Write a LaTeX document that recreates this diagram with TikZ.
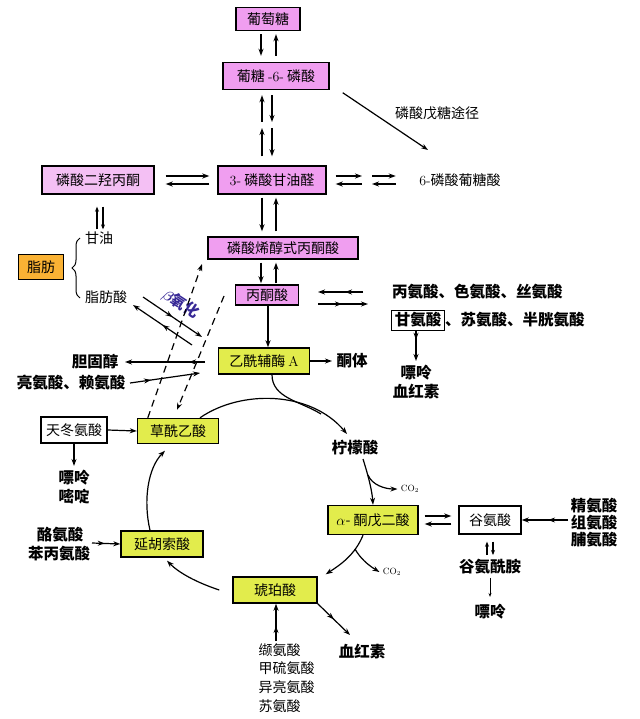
\documentclass[tikz,border=0pt]{standalone}
\usepackage{amsmath}
\usepackage{fontspec}
\newfontfamily\cjk{Noto Sans CJK SC}
\usetikzlibrary{arrows.meta,decorations.markings,decorations.pathreplacing,calc}
\definecolor{pinkA}{RGB}{240,158,240}
\definecolor{pinkB}{RGB}{244,192,244}
\definecolor{yel}{RGB}{226,236,76}
\definecolor{orng}{RGB}{250,178,52}
\definecolor{betac}{RGB}{55,40,150}
\begin{document}
\begin{tikzpicture}[x=1pt,y=-1pt,
  >={Stealth[length=7pt,width=5pt]},
  every node/.style={font=\cjk\fontsize{14}{16}\selectfont},
  bx/.style={draw, line width=1.4pt, inner sep=0pt, minimum height=26pt},
  ln/.style={line width=1.2pt},
  dbl/.style={ln, ->, decoration={markings, mark=at position #1 with {\arrow{Stealth[length=7pt,width=5pt]}}}, postaction={decorate}},
  dbl/.default=0.5,
  bt/.style={font=\cjk\bfseries\fontsize{15.5}{17}\selectfont},
  sm/.style={font=\fontsize{9}{10}\selectfont}
]
\useasboundingbox (0,0) rectangle (639,719);

% ---------- boxes ----------
\node[bx,fill=pinkA,minimum width=64pt,minimum height=23pt] (glu) at (268,19) {葡萄糖};
\node[bx,fill=pinkA,minimum width=106pt,minimum height=27pt] (g6p) at (276,76) {葡糖 \textrm{-6-} 磷酸};
\node[bx,fill=pinkA,minimum width=108pt,minimum height=28pt] (gap) at (272,180) {\textrm{3-} 磷酸甘油醛};
\node[bx,fill=pinkB,minimum width=112pt,minimum height=28pt] (dhap) at (98,180) {磷酸二羟丙酮};
\node[bx,fill=pinkA,minimum width=150pt,minimum height=22pt] (pep) at (283,248) {磷酸烯醇式丙酮酸};
\node[bx,fill=pinkA,minimum width=63pt,minimum height=20pt] (pyr) at (267,295) {丙酮酸};
\node[bx,fill=yel,minimum width=91pt,minimum height=26pt] (acoa) at (264,361) {乙酰辅酶 \textrm{A}};
\node[bx,fill=yel,minimum width=81pt,minimum height=25pt] (oaa) at (178,431) {草酰乙酸};
\node[bx,fill=white,minimum width=66pt,minimum height=26pt] (asp) at (74,430) {天冬氨酸};
\node[bx,fill=yel,minimum width=82pt] (fum) at (162,544) {延胡索酸};
\node[bx,fill=yel,minimum width=84pt] (suc) at (275,590) {琥珀酸};
\node[bx,fill=yel,minimum width=90pt,minimum height=29pt] (akg) at (373,520) {$\alpha$- 酮戊二酸};
\node[bx,fill=white,minimum width=62pt,minimum height=28pt] (glt) at (490,520) {谷氨酸};
\node[bx,fill=orng,minimum width=45pt,minimum height=25pt] (fat) at (41,267) {脂肪};
\node[draw,line width=1pt,inner sep=0pt,minimum width=53pt,minimum height=20pt,bt] (gly) at (418,320) {甘氨酸};

% ---------- texts ----------
\node[bt,anchor=west,inner sep=0pt] (aa2) at (gly.east) {、苏氨酸、半胱氨酸};
\node[bt,anchor=west,inner sep=0pt] (aa1) at (392,292) {丙氨酸、色氨酸、丝氨酸};
\node (ppp) at (437,113) {磷酸戊糖途径};
\node (gpa) at (460,180) {\textrm{6-}磷酸葡糖酸};
\node[anchor=west,inner sep=0pt] (glyc) at (85,238) {甘油};
\node[anchor=west,inner sep=0pt] (fa) at (85,297) {脂肪酸};
\node[bt] (pur1) at (416,373) {嘌呤};
\node[bt] (hem1) at (416,392) {血红素};
\node[bt] (keto) at (352,361) {酮体};
\node[bt] (chol) at (95,362) {胆固醇};
\node[bt] (leu) at (71,383) {亮氨酸、赖氨酸};
\node[bt] (pur2) at (74,478) {嘌呤};
\node[bt] (pym) at (74,497) {嘧啶};
\node[bt] (tyr) at (60,535) {酪氨酸};
\node[bt] (phe) at (59,554) {苯丙氨酸};
\node[bt] (cit) at (355,448) {柠檬酸};
\node[sm] (co2a) at (410,489) {CO$_2$};
\node[sm] (co2b) at (392,572) {CO$_2$};
\node[bt] (arg) at (594,506) {精氨酸};
\node[bt] (his) at (594,523) {组氨酸};
\node[bt] (pro) at (594,540) {脯氨酸};
\node[bt] (gln) at (490,567) {谷氨酰胺};
\node[bt] (pur3) at (490,612) {嘌呤};
\node[bt] (hem2) at (362,652) {血红素};
\node[anchor=west] (val) at (255,650) {缬氨酸};
\node[anchor=west] (met) at (255,668) {甲硫氨酸};
\node[anchor=west] (ile) at (255,687) {异亮氨酸};
\node[anchor=west] (thr) at (255,706) {苏氨酸};
\node[text=betac,rotate=-33,inner sep=0pt,font=\cjk\bfseries\fontsize{15}{16}\selectfont] (beta) at (181,304) {$\boldsymbol{\beta}$氧化};

% ---------- free-end coordinates ----------
\coordinate (gm) at (267,125);
\coordinate (gq) at (367,180);
\coordinate (ppe) at (428,150);
\coordinate (p1a) at (363,292);
\coordinate (p1b) at (318,292);
\coordinate (p2a) at (318,304);
\coordinate (p2b) at (368,304);
\coordinate (pu1) at (416,361);
\coordinate (ch1) at (205,362);
\coordinate (ch2) at (125,362);
\coordinate (le1) at (130,383);
\coordinate (le2) at (200,373);
\coordinate (bA1) at (143,297);
\coordinate (bA2) at (202,337);
\coordinate (bB1) at (192,345);
\coordinate (bB2) at (133,305);
\coordinate (pe1) at (202,264);
\coordinate (ds) at (224,296);
\coordinate (ty) at (92,543);
\coordinate (jn) at (321,414);
\coordinate (cb1) at (368,475);
\coordinate (cb2) at (355,549);
\coordinate (hm) at (350,635);
\coordinate (vb) at (276,641);
\coordinate (ag) at (568,520);

% ---------- glycolysis ----------
\draw[ln,->,shorten <=3pt,shorten >=6pt] (glu.south -| 261,0) -- (g6p.north -| 261,0);
\draw[ln,->,shorten <=6pt,shorten >=3pt] (g6p.north -| 276,0) -- (glu.south -| 276,0);
\draw[ln,->,shorten <=3pt,shorten >=5pt] (gm -| 262,0) -- (g6p.south -| 262,0);
\draw[ln,->,shorten <=5pt,shorten >=3pt] (g6p.south -| 272,0) -- (gm -| 272,0);
\draw[ln,->,shorten <=9pt,shorten >=3pt] (gap.north -| 262,0) -- (gm -| 262,0);
\draw[ln,->,shorten <=3pt,shorten >=9pt] (gm -| 272,0) -- (gap.north -| 272,0);
\draw[ln,->,shorten <=3pt,shorten >=5pt] (gap.south -| 262,0) -- (pep.north -| 262,0);
\draw[ln,->,shorten <=5pt,shorten >=3pt] (pep.north -| 276,0) -- (gap.south -| 276,0);
\draw[ln,->,shorten <=3pt,shorten >=1pt] (pep.south -| 261,0) -- (pyr.north -| 261,0);
\draw[ln,->,shorten <=1pt,shorten >=3pt] (pyr.north -| 276,0) -- (pep.south -| 276,0);
\draw[ln,->] (pyr.south -| 268,0) -- (acoa.north -| 268,0);
\draw[ln,->,shorten >=1pt] (acoa.east) -- (keto.west);

% DHAP <-> GAP
\draw[ln,->,shorten <=11pt,shorten >=8pt] ([yshift=4pt]dhap.east) -- ([yshift=4pt]gap.west);
\draw[ln,->,shorten <=8pt,shorten >=11pt] ([yshift=-4pt]gap.west) -- ([yshift=-4pt]dhap.east);
% GAP <-> 6-phosphogluconate
\draw[ln,->,shorten <=9pt,shorten >=5pt] ([yshift=4pt]gap.east) -- ([yshift=4pt]gq);
\draw[ln,->,shorten <=5pt,shorten >=9pt] ([yshift=-4pt]gq) -- ([yshift=-4pt]gap.east);
\draw[ln,->,shorten <=5pt,shorten >=20pt] ([yshift=4pt]gq) -- ([yshift=4pt]gpa.west);
\draw[ln,->,shorten <=20pt,shorten >=5pt] ([yshift=-4pt]gpa.west) -- ([yshift=-4pt]gq);
% pentose phosphate
\draw[ln,->] ([xshift=13pt,yshift=-2.5pt]g6p.south east) -- (ppe);

% DHAP <-> glycerol
\draw[ln,-{Stealth[length=5pt,width=4pt]},shorten <=2pt,shorten >=12pt] (glyc.north -| 97,0) -- (dhap.south -| 97,0);
\draw[ln,-{Stealth[length=5pt,width=4pt]},shorten <=12pt,shorten >=2pt] (dhap.south -| 103,0) -- (glyc.north -| 103,0);
% brace
\draw[line width=1pt,decorate,decoration={brace,amplitude=8pt}] (80,298) -- (80,238);

% pyruvate <-> amino acids
\draw[dbl=0.4] (p1a) -- (p1b);
\draw[dbl=0.48] (p2a) -- (p2b);
\draw[dbl=0.3] (gly.south -| pu1) -- (pu1);

% acetyl-CoA side
\draw[dbl=0.2] (ch1) -- (ch2);
\draw[dbl=0.3] (le1) -- (le2);
\draw[dbl=0.5] (bA1) -- (bA2);
\draw[dbl=0.5] (bB1) -- (bB2);
\draw[ln,->,dash pattern=on 7pt off 5pt] ([xshift=11pt]oaa.north west) -- (pe1);
\draw[ln,->,dash pattern=on 7pt off 5pt] (ds) -- ([xshift=-1pt,yshift=8pt]oaa.north);

% aspartate
\draw[ln,->] (asp.east) -- (oaa.west);
\draw[ln,->,shorten >=1pt] (asp.south) -- (pur2.north);
\draw[dbl=0.45] (ty) -- (fum.west);

% TCA cycle
\draw[ln,->] ([xshift=22pt]oaa.north) .. controls (240,390) and (310,390) .. ([xshift=-8pt,yshift=3pt]cit.north);
\draw[ln] ([xshift=8pt]acoa.south) .. controls (272,398) and (300,401) .. (jn);
\draw[ln,->] ([xshift=8pt]cit.south) .. controls (368,475) and (372,490) .. (akg.north);
\draw[ln,->] (cb1) .. controls (372,485) and (385,489) .. (co2a.west);
\draw[ln,->] ([xshift=-10pt]akg.south) .. controls (355,555) and (340,565) .. ([xshift=8pt,yshift=2pt]suc.north east);
\draw[ln,->] (cb2) .. controls (360,558) and (368,565) .. (co2b.west);
\draw[dbl=0.5] (suc.south east) -- (hm);
\draw[dbl=0.4] (vb) -- (suc.south -| vb);
\draw[ln,->] ([xshift=-13pt]suc.west) .. controls (195,582) and (178,572) .. ([xshift=5pt,yshift=-3pt]fum.south);
\draw[ln,->] ([xshift=-12pt]fum.north) .. controls (143,500) and (148,468) .. ([xshift=-13pt,yshift=-6.5pt]oaa.south);

% glutamate
\draw[ln,->,shorten <=6pt,shorten >=7pt] ([yshift=4pt]akg.east) -- ([yshift=4pt]glt.west);
\draw[ln,->,shorten <=7pt,shorten >=6pt] ([yshift=-4pt]glt.west) -- ([yshift=-4pt]akg.east);
\draw[dbl=0.43] (ag) -- (glt.east);
\draw[ln,-{Stealth[length=5pt,width=4pt]},shorten <=1pt,shorten >=7pt] (gln.north -| 487,0) -- (glt.south -| 487,0);
\draw[ln,-{Stealth[length=5pt,width=4pt]},shorten <=7pt,shorten >=1pt] (glt.south -| 493,0) -- (gln.north -| 493,0);
\draw[line width=0.8pt,-{Stealth[length=4pt,width=3pt]},shorten >=4pt] (gln.south) -- (pur3.north);
\end{tikzpicture}
\end{document}
